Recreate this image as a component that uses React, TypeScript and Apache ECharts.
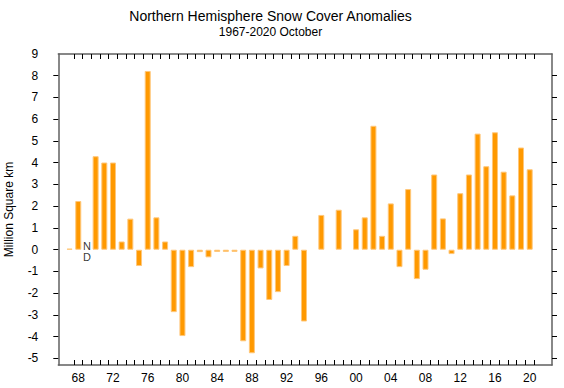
import React, { useEffect, useRef } from "react";
import * as echarts from "echarts";

const firstYear = 1967;
const anomalies: (number | null)[] = [
  0.05, 2.24, null, 4.3, 4.01, 4.01, 0.38, 1.43, -0.75, 8.22, // 1967-1976
  1.49, 0.38, -2.87, -3.97, -0.8, -0.11, -0.35, -0.1, -0.1, -0.1, // 1977-1986
  -4.21, -4.76, -0.86, -2.31, -1.95, -0.75, 0.64, -3.3, null, 1.6, // 1987-1996
  null, 1.84, null, 0.94, 1.49, 5.7, 0.64, 2.13, -0.8, 2.79, // 1997-2006
  -1.35, -0.92, 3.46, 1.44, -0.2, 2.6, 3.46, 5.34, 3.84, 5.4, // 2007-2016
  3.59, 2.5, 4.7, 3.7, // 2017-2020
];
const years = anomalies.map((_, i) => firstYear + i);
const noDataYears = [1969];
const xLabelYears = [1968, 1972, 1976, 1980, 1984, 1988, 1992, 1996, 2000, 2004, 2008, 2012, 2016, 2020];
const xTickBounds = years.map((y) => y + 0.5);
const yTicks = [-5, -4, -3, -2, -1, 0, 1, 2, 3, 4, 5, 6, 7, 8, 9];

const FONT = "'Liberation Sans', Arial, Helvetica, sans-serif";

export default function App() {
  const ref = useRef<HTMLDivElement>(null);
  useEffect(() => {
    if (!ref.current) return;
    const chart = echarts.init(ref.current, undefined, { renderer: "svg" });
    const frame = { show: true, lineStyle: { color: "#606060", width: 1.5 } };
    const xCommon = {
      type: "value",
      min: 1965.7,
      max: 2022.57,
      splitLine: { show: false },
      axisLine: { ...frame, onZero: false },
    };
    const yCommon = {
      type: "value",
      min: -5.3,
      max: 9,
      splitLine: { show: false },
      axisLine: { ...frame, onZero: false },
    };
    chart.setOption({
      animation: false,
      textStyle: { fontFamily: FONT },
      graphic: [
        {
          type: "text",
          x: 270.5,
          y: 16,
          style: {
            text: "Northern Hemisphere Snow Cover Anomalies",
            fontSize: 14,
            fontFamily: FONT,
            fill: "#000",
            textAlign: "center",
            textVerticalAlign: "middle",
          },
        },
        {
          type: "text",
          x: 270.5,
          y: 32,
          style: {
            text: "1967-2020 October",
            fontSize: 12,
            fontFamily: FONT,
            fill: "#000",
            textAlign: "center",
            textVerticalAlign: "middle",
          },
        },
      ],
      grid: { left: 58.3, right: 12, top: 54, bottom: 23, containLabel: false, outerBoundsMode: "none" },
      xAxis: [
        {
          ...xCommon,
          position: "bottom",
          axisTick: {
            show: true,
            inside: true,
            length: 5,
            customValues: xTickBounds,
            lineStyle: { color: "#000", width: 1 },
          },
          axisLabel: {
            show: true,
            customValues: xLabelYears,
            formatter: (v: number) => String(Math.round(v) % 100).padStart(2, "0"),
            fontSize: 12,
            color: "#000",
            margin: 7,
            fontFamily: FONT,
          },
        },
        {
          ...xCommon,
          position: "top",
          axisTick: {
            show: true,
            inside: true,
            length: 5,
            customValues: xTickBounds,
            lineStyle: { color: "#000", width: 1 },
          },
          axisLabel: { show: false },
        },
      ],
      yAxis: [
        {
          ...yCommon,
          position: "left",
          name: "Million Square km",
          nameLocation: "middle",
          nameGap: 43,
          nameTextStyle: { fontSize: 12, color: "#000", fontFamily: FONT },
          axisTick: {
            show: true,
            inside: false,
            length: 5,
            customValues: yTicks.filter((t) => t < 9),
            lineStyle: { color: "#000", width: 1 },
          },
          axisLabel: {
            show: true,
            customValues: yTicks,
            fontSize: 12,
            color: "#000",
            margin: 20,
            fontFamily: FONT,
          },
        },
        {
          ...yCommon,
          position: "right",
          axisTick: {
            show: true,
            inside: false,
            length: 5,
            customValues: yTicks.filter((t) => t < 9),
            lineStyle: { color: "#000", width: 1 },
          },
          axisLabel: { show: false },
        },
      ],
      series: [
        {
          type: "bar",
          xAxisIndex: 0,
          yAxisIndex: 0,
          barWidth: 6,
          data: years.map((y, i) => [y, anomalies[i]]),
          itemStyle: { color: "#FF9900", borderColor: "#FFC77A", borderWidth: 1 },
          emphasis: { disabled: true },
        },
        {
          type: "scatter",
          xAxisIndex: 0,
          yAxisIndex: 0,
          symbolSize: 0,
          data: noDataYears.map((y) => [y, 0]),
          label: {
            show: true,
            position: "inside",
            formatter: "N\nD",
            fontSize: 11,
            lineHeight: 11,
            color: "#000",
            fontFamily: FONT,
            offset: [0, 2],
          },
          emphasis: { disabled: true },
        },
      ],
    });
    return () => chart.dispose();
  }, []);
  return (
    <div
      ref={ref}
      style={{ position: "fixed", left: 0, top: 0, width: 564, height: 388, background: "#fff" }}
    />
  );
}
